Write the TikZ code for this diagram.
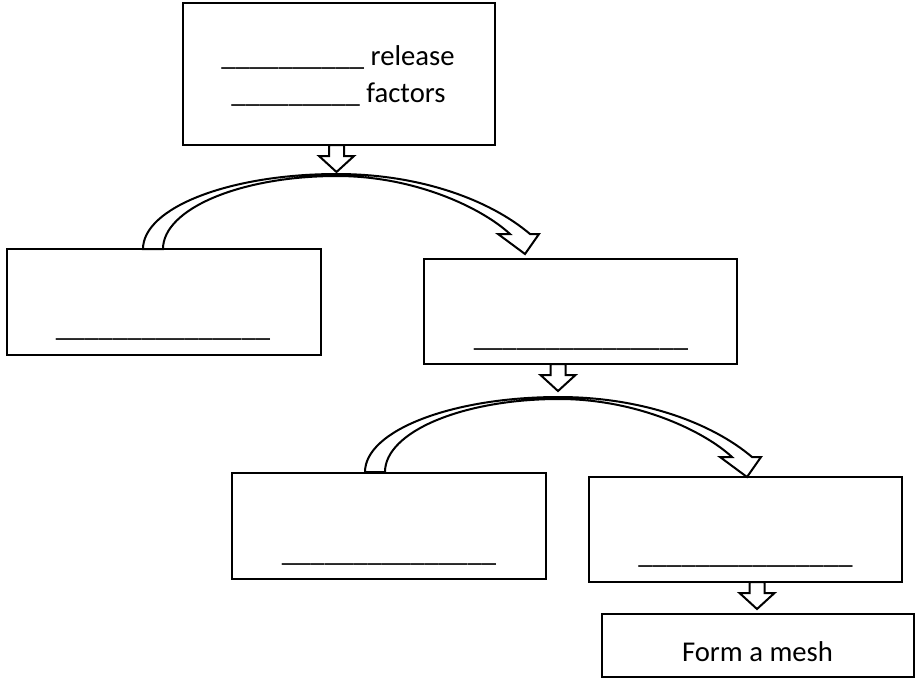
\documentclass[tikz,border=0pt]{standalone}
\usepackage{fontspec}
\setmainfont{Carlito}
\usetikzlibrary{fit}
\newcommand\blankline[1]{\foreach \i in {1,...,#1}{\_}}
\begin{document}
\begin{tikzpicture}[x=0.75pt,y=-0.75pt,line width=1.5pt,
  box/.style={draw=black,fill=white,inner sep=0pt,rectangle},
  lbl/.style={anchor=base,inner sep=0pt,font=\fontsize{21.5}{25}\selectfont},
  blockarrow/.style={draw=black,fill=white,line join=miter},
  downarrow/.pic={\draw[blockarrow] (-7.5,0) -- (-7.5,11) -- (-17.5,11) -- (0,27) -- (17.5,11) -- (7.5,11) -- (7.5,0) -- cycle;},
  curvearrow/.pic={\draw[blockarrow] (-194,75) .. controls (-194,33.6) and (-107,0) .. (0,0)
      .. controls (83,0) and (153,26) .. (193,60) -- (202,60) -- (188,80) -- (161,60) -- (173,60)
      .. controls (145,34) and (78,2) .. (0,2)
      .. controls (-96,2) and (-174,34.7) .. (-174,75) -- cycle;}]
\useasboundingbox (0,0) rectangle (916,679);
% boxes
\node[box,fit={(183,3) (495,145)}] (top) {};
\node[box,fit={(7,249) (321,355)}] (b1) {};
\node[box,fit={(424,259) (737,364)}] (b2) {};
\node[box,fit={(232,473) (546,579)}] (b3) {};
\node[box,fit={(589,477) (902,582)}] (b4) {};
\node[box,fit={(602,614) (914,677)}] (b5) {};
% texts
\node[lbl] (t1) at (338,65) {\_\_\_\_\_\_\_\_\_\_ release};
\node[lbl] (t2) at (338.5,102) {\_\_\_\_\_\_\_\_\_ factors};
\node[lbl] (u1) at (163,336) {\_\_\_\_\_\_\_\_\_\_\_\_\_\_\_};
\node[lbl] (u2) at (581,346) {\_\_\_\_\_\_\_\_\_\_\_\_\_\_\_};
\node[lbl] (u3) at (389,561) {\_\_\_\_\_\_\_\_\_\_\_\_\_\_\_};
\node[lbl] (u4) at (745.5,563) {\_\_\_\_\_\_\_\_\_\_\_\_\_\_\_};
\node[lbl] (t5) at (757.5,661) {Form a mesh};
% arrows
\pic at (337,174) {curvearrow};
\pic at (559,397) {curvearrow};
\pic at (336.5,145) {downarrow};
\pic at (558,364) {downarrow};
\pic at (757,582) {downarrow};
\end{tikzpicture}
\end{document}
